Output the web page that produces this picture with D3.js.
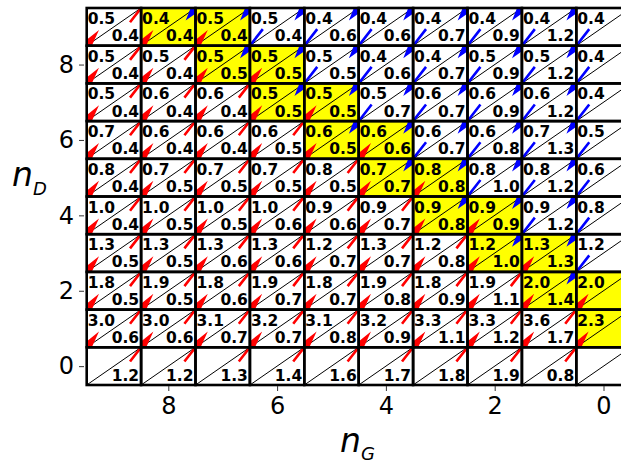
<!DOCTYPE html>
<meta charset="utf-8">
<script src="https://d3js.org/d3.v7.min.js"></script>
<style>
  body { margin: 0; background: #fff; }
  text { font-family: "DejaVu Sans", sans-serif; }
</style>
<svg id="chart" width="621" height="464"></svg>
<script>
// columns (n_G, left to right) and rows (n_D, top to bottom)
var nG = [9, 8, 7, 6, 5, 4, 3, 2, 1, 0];
var nD = [9, 8, 7, 6, 5, 4, 3, 2, 1, 0];
var xTicks = [0, 2, 4, 6, 8];
var yTicks = [0, 2, 4, 6, 8];

// top-left number of each cell (D), one list per row
var dVals = [
  [0.5, 0.4, 0.5, 0.5, 0.4, 0.4, 0.4, 0.4, 0.4, 0.4],
  [0.5, 0.5, 0.5, 0.5, 0.5, 0.4, 0.4, 0.5, 0.5, 0.4],
  [0.5, 0.6, 0.6, 0.5, 0.5, 0.5, 0.6, 0.6, 0.6, 0.4],
  [0.7, 0.6, 0.6, 0.6, 0.6, 0.6, 0.6, 0.6, 0.7, 0.5],
  [0.8, 0.7, 0.7, 0.7, 0.8, 0.7, 0.8, 0.8, 0.8, 0.6],
  [1.0, 1.0, 1.0, 1.0, 0.9, 0.9, 0.9, 0.9, 0.9, 0.8],
  [1.3, 1.3, 1.3, 1.3, 1.2, 1.3, 1.2, 1.2, 1.3, 1.2],
  [1.8, 1.9, 1.8, 1.9, 1.8, 1.9, 1.8, 1.9, 2.0, 2.0],
  [3.0, 3.0, 3.1, 3.2, 3.1, 3.2, 3.3, 3.3, 3.6, 2.3],
  [null, null, null, null, null, null, null, null, null, null]
];

// bottom-right number of each cell (G)
var gVals = [
  [0.4, 0.4, 0.4, 0.4, 0.6, 0.6, 0.7, 0.9, 1.2, null],
  [0.4, 0.4, 0.5, 0.5, 0.5, 0.6, 0.7, 0.9, 1.2, null],
  [0.4, 0.4, 0.4, 0.5, 0.5, 0.7, 0.7, 0.9, 1.2, null],
  [0.4, 0.4, 0.4, 0.5, 0.5, 0.6, 0.7, 0.8, 1.3, null],
  [0.4, 0.5, 0.5, 0.5, 0.5, 0.7, 0.8, 1.0, 1.2, null],
  [0.4, 0.5, 0.5, 0.6, 0.6, 0.7, 0.8, 0.9, 1.2, null],
  [0.5, 0.5, 0.6, 0.6, 0.7, 0.7, 0.8, 1.0, 1.3, null],
  [0.5, 0.5, 0.6, 0.7, 0.7, 0.8, 0.9, 1.1, 1.4, null],
  [0.6, 0.6, 0.7, 0.7, 0.8, 0.9, 1.1, 1.2, 1.7, null],
  [1.2, 1.2, 1.3, 1.4, 1.6, 1.7, 1.8, 1.9, 0.8, null]
];

// arrow colour at the bottom-left corner (D move) and top-right corner (G move)
// r = red, b = blue, - = none
var dArrow = [
  "rrrbbbbbbb",
  "rrrrbbbbbb",
  "rrrrrbbbbb",
  "rrrrrrbbbb",
  "rrrrrrrbbb",
  "rrrrrrrrbb",
  "rrrrrrrrrb",
  "rrrrrrrrrr",
  "rrrrrrrrrr",
  "----------"
];
var gArrow = [
  "rbbbbbbbb-",
  "rrbbbbbbb-",
  "rrrbbbbbb-",
  "rrrrbbbbb-",
  "rrrrrbbbb-",
  "rrrrrrbbb-",
  "rrrrrrrbb-",
  "rrrrrrrrb-",
  "rrrrrrrrr-",
  "rrrrrrrrr-"
];

var svg = d3.select("#chart");
var x = d3.scaleLinear().domain([9.5, -0.5]).range([86.7, 630.7]);
var y = d3.scaleLinear().domain([-0.5, 9.5]).range([385, 8]);
var fmt = d3.format(".1f");
var colors = { r: "#ff0000", b: "#0000ff" };

// arrow through corner C; sign +1 points up-right, -1 points down-left
var ang = 52 * Math.PI / 180;
var ux = Math.cos(ang), uy = -Math.sin(ang);
var px = Math.sin(ang), py = Math.cos(ang);
function arrow(cx, cy, sign, back, front, base) {
  var sw = 1.3, hw = 5, notch = base + 2;
  function pt(s, t) {
    return [cx + sign * s * ux + t * px, cy + sign * s * uy + t * py];
  }
  return [pt(-back, -sw), pt(notch, -sw), pt(base, -hw), pt(front, 0),
          pt(base, hw), pt(notch, sw), pt(-back, sw)];
}
var line = d3.line();

var cells = [];
nD.forEach(function(d, i) {
  nG.forEach(function(g, j) {
    cells.push({ i: i, j: j, nd: d, ng: g,
      dv: dVals[i][j], gv: gVals[i][j],
      da: dArrow[i][j], ga: gArrow[i][j] });
  });
});

var defs = svg.append("defs");
var grid = svg.append("g");

cells.forEach(function(c) {
  var x0 = x(c.ng + 0.5), x1 = x(c.ng - 0.5);
  var y0 = y(c.nd + 0.5), y1 = y(c.nd - 0.5);
  var id = "clip-" + c.i + "-" + c.j;
  defs.append("clipPath").attr("id", id)
    .append("rect").attr("x", x0).attr("y", y0)
    .attr("width", x1 - x0).attr("height", y1 - y0);

  var eq = c.da === "r" && c.ga !== "r";
  var g = grid.append("g").attr("clip-path", "url(#" + id + ")");
  g.append("rect").attr("x", x0).attr("y", y0)
    .attr("width", x1 - x0).attr("height", y1 - y0)
    .attr("fill", eq ? "#ffff00" : "#ffffff");
  g.append("line").attr("x1", x0).attr("y1", y1).attr("x2", x1).attr("y2", y0)
    .attr("stroke", "#000").attr("stroke-width", 1);

  if (c.da !== "-") {
    var pts = c.da === "r" ? arrow(x0, y1, 1, 18, 20, -1) : arrow(x0, y1, -1, 21, 16, -1);
    g.append("path").attr("d", line(pts) + "Z").attr("fill", colors[c.da]);
  }
  if (c.ga !== "-") {
    var pts2 = c.ga === "r" ? arrow(x1, y0, 1, 18, 20, -1) : arrow(x1, y0, -1, 21, 16, -1);
    g.append("path").attr("d", line(pts2) + "Z").attr("fill", colors[c.ga]);
  }

  if (c.dv !== null) {
    g.append("text").attr("x", x0 + 1).attr("y", y0 + 16)
      .attr("font-size", 15.5).attr("font-weight", "bold")
      .text(fmt(c.dv));
  }
  if (c.gv !== null) {
    g.append("text").attr("x", x1 - 2).attr("y", y1 - 4.5)
      .attr("text-anchor", "end")
      .attr("font-size", 15.5).attr("font-weight", "bold")
      .text(fmt(c.gv));
  }
});

// thick cell borders on top
grid.selectAll("rect.border").data(cells).enter().append("rect")
  .attr("class", "border")
  .attr("x", function(c) { return x(c.ng + 0.5); })
  .attr("y", function(c) { return y(c.nd + 0.5); })
  .attr("width", function(c) { return x(c.ng - 0.5) - x(c.ng + 0.5); })
  .attr("height", function(c) { return y(c.nd - 0.5) - y(c.nd + 0.5); })
  .attr("fill", "none").attr("stroke", "#000").attr("stroke-width", 2.6);

// axes
var xAxis = svg.append("g").attr("transform", "translate(0,386)")
  .call(d3.axisBottom(x).tickValues(xTicks).tickSize(5).tickPadding(6));
var yAxis = svg.append("g").attr("transform", "translate(84,0)")
  .call(d3.axisLeft(y).tickValues(yTicks).tickSize(5).tickPadding(5));
[xAxis, yAxis].forEach(function(a) {
  a.select(".domain").remove();
  a.selectAll("line").attr("stroke", "#333").attr("stroke-width", 1);
  a.selectAll("text").attr("font-size", 24).attr("fill", "#000")
    .attr("font-family", "DejaVu Sans");
});

// axis titles
var yl = svg.append("text").attr("x", 12).attr("y", 186)
  .attr("font-style", "italic").attr("font-size", 33);
yl.append("tspan").text("n");
yl.append("tspan").attr("font-size", 18).attr("dy", 9).text("D");

var xl = svg.append("text").attr("x", 340).attr("y", 452)
  .attr("font-style", "italic").attr("font-size", 33);
xl.append("tspan").text("n");
xl.append("tspan").attr("font-size", 18).attr("dy", 8).text("G");
</script>
